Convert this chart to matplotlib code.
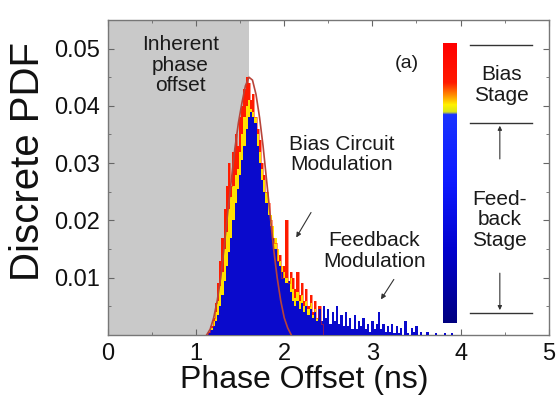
import numpy as np
import matplotlib
matplotlib.use("Agg")
import matplotlib.pyplot as plt
from matplotlib.colors import LinearSegmentedColormap
from matplotlib.ticker import MultipleLocator

plt.rcParams['font.family'] = ['Liberation Sans', 'DejaVu Sans']

# ---- data (PDF values in units of 1e-3) ----
bin_start = 1.10
bin_step = 0.025
blue_pdf = [0, 0, 0.3, 0.8, 1.5, 2.5, 3.5, 5, 7, 9.5,
            12, 14.5, 17, 20, 23, 25.5, 28, 30.5, 33, 36,
            38, 39, 38, 37, 33, 30, 27, 25, 23, 21,
            19, 17, 15, 13, 12, 11, 10, 9, 9.5, 7.5,
            6, 5, 6, 4.5, 5.5, 4, 5, 3.5, 4.5, 3,
            4, 2.5, 4.5, 2.5, 5, 3, 4.5, 2, 4, 2.5,
            5, 2, 3.5, 1.5, 4, 1.5, 3, 1, 3.5, 1,
            2.5, 1.5, 3, 1, 2, 0.5, 2.5, 1, 2, 4,
            1, 2, 0.5, 1.5, 0.5, 2, 0.3, 1.5, 0.3, 1.2,
            0, 2.5, 0.3, 0, 1.3, 0.5, 1.5, 0, 0.5, 0,
            0, 0.5, 0, 0, 0, 0.4, 0, 0, 0, 0.3,
            0, 0, 0.3, 0, 0, 0, 0, 0, 0, 0]
red_pdf = [0, 0, 0.5, 1.5, 3, 5.5, 9, 13, 17, 22,
           26, 30, 26, 32, 35, 33, 38, 40, 43, 45,
           44, 41, 42, 38, 36, 34, 30, 28, 25, 23,
           20, 17, 16, 13, 14, 10, 12, 20, 9, 11,
           10, 8, 11, 7, 9, 6, 8, 5, 7, 4,
           6, 3, 5, 2, 0]
yellow_pdf = [0, 0, 0.4, 1.2, 2.5, 4, 6, 8.5, 11, 15,
              18, 22, 24, 26, 28, 29, 32, 35, 38, 40,
              41, 39.5, 39, 38, 35, 32, 29, 27, 25, 23,
              21, 19, 17, 15, 13, 12, 11, 10, 9, 10,
              8, 6.5, 7.5, 6, 7, 5, 6, 4.5, 5.5, 3.5,
              4.5, 3, 4, 2, 0]
fit_x = [1.12, 1.16, 1.20, 1.24, 1.28, 1.32, 1.36, 1.40, 1.44, 1.48, 1.52, 1.56,
         1.60, 1.64, 1.68, 1.72, 1.76, 1.80, 1.84, 1.88, 1.92, 1.96, 2.00, 2.04, 2.08]
fit_y = [0, 1, 3, 6, 10, 15.5, 21.5, 27, 32.5, 37, 40.5, 43.5,
         45, 44.5, 42, 38, 33, 27, 21, 15, 10, 6, 3, 1.2, 0]
inherent_offset = 1.6
xticks = [0, 1, 2, 3, 4, 5]
yticks = [0.01, 0.02, 0.03, 0.04, 0.05]

scale = 1e-3
xb = bin_start + bin_step * np.arange(len(blue_pdf))
xr = bin_start + bin_step * np.arange(len(red_pdf))
xy = bin_start + bin_step * np.arange(len(yellow_pdf))

fig = plt.figure(figsize=(5.56, 4.07), dpi=100)
ax = fig.add_axes([0.194, 0.177, 0.793, 0.774])

ax.axvspan(0, inherent_offset, color='#c9c9c9', lw=0, zorder=0)

ax.fill_between(xr, np.array(red_pdf) * scale, step='mid', color='#ff1a00', lw=0, zorder=1)
ax.fill_between(xy, np.array(yellow_pdf) * scale, step='mid', color='#ffe000', lw=0, zorder=2)
ax.fill_between(xb, np.array(blue_pdf) * scale, step='mid', color='#0a0acc', lw=0, zorder=3)
ax.step(xr, np.array(red_pdf) * scale, where='mid', color='#ff2000', lw=0.6, alpha=0.6, zorder=4)
ax.plot(fit_x, np.array(fit_y) * scale, color='#b8443a', lw=1.2, zorder=5)

ax.set_xlim(0, 5)
ax.set_ylim(0, 0.055)
ax.set_xticks(xticks)
ax.set_yticks(yticks)
ax.set_yticklabels([f"{v:.2f}" for v in yticks])
ax.xaxis.set_minor_locator(MultipleLocator(0.5))
ax.yaxis.set_minor_locator(MultipleLocator(0.005))
ax.tick_params(which='both', direction='in', top=True, right=True, color='#666666')
ax.tick_params(which='major', length=4, labelsize=17, pad=6, labelcolor='#111111')
ax.tick_params(which='minor', length=2)
for s in ax.spines.values():
    s.set_color('#777777')
    s.set_linewidth(1.0)

ax.set_xlabel('Phase Offset (ns)', fontsize=23, color='#111111')
ax.set_ylabel('Discrete PDF', fontsize=29, color='#111111')
ax.xaxis.set_label_coords(0.445, -0.095)
ax.yaxis.set_label_coords(-0.138, 0.55)

tkw = dict(fontsize=15, ha='center', va='center', color='#1a1a1a', linespacing=1.1)
ax.text(0.82, 0.0471, 'Inherent\nphase\noffset', **tkw)
ax.text(2.65, 0.0315, 'Bias Circuit\nModulation', **tkw)
ax.text(3.02, 0.0147, 'Feedback\nModulation', **tkw)
ax.text(0.678, 0.863, '(a)', transform=ax.transAxes, fontsize=14, ha='center', va='center', color='#1a1a1a')

ax.annotate('', xy=(2.12, 0.0166), xytext=(2.32, 0.0218),
            arrowprops=dict(arrowstyle='-|>', color='#333333', lw=0.8, mutation_scale=7))
ax.annotate('', xy=(3.08, 0.0058), xytext=(3.26, 0.0101),
            arrowprops=dict(arrowstyle='-|>', color='#333333', lw=0.8, mutation_scale=7))

# colour bar of the stage colour code
cmap = LinearSegmentedColormap.from_list('stage', [
    (0.0, (0.0, 0.0, 0.5)), (0.25, (0.0, 0.0, 0.8)), (0.5, (0.05, 0.1, 1.0)),
    (0.745, (0.1, 0.2, 1.0)), (0.755, (0.85, 0.9, 0.1)), (0.78, (1.0, 0.95, 0.0)),
    (0.82, (1.0, 0.5, 0.0)), (0.86, (1.0, 0.1, 0.0)), (1.0, (1.0, 0.0, 0.0))])
cax = fig.add_axes([443 / 556, 1 - 323 / 407, 14 / 556, 280 / 407])
cax.imshow(np.linspace(1, 0, 256).reshape(-1, 1), aspect='auto', cmap=cmap,
           extent=[0, 1, 0, 1])
cax.set_axis_off()

lkw = dict(color='#333333', lw=1.0, transform=ax.transAxes, clip_on=False, zorder=6)
for yy in (0.921, 0.673, 0.070):
    ax.plot([0.821, 0.961], [yy, yy], **lkw)
ax.annotate('', xy=(0.889, 0.673), xytext=(0.889, 0.55), xycoords='axes fraction',
            arrowprops=dict(arrowstyle='-|>', color='#333333', lw=0.8, mutation_scale=6))
ax.annotate('', xy=(0.889, 0.070), xytext=(0.889, 0.205), xycoords='axes fraction',
            arrowprops=dict(arrowstyle='-|>', color='#333333', lw=0.8, mutation_scale=6))
ax.text(0.892, 0.794, 'Bias\nStage', transform=ax.transAxes, **tkw)
ax.text(0.889, 0.365, 'Feed-\nback\nStage', transform=ax.transAxes, **tkw)

fig.savefig('out.png', dpi=100)
